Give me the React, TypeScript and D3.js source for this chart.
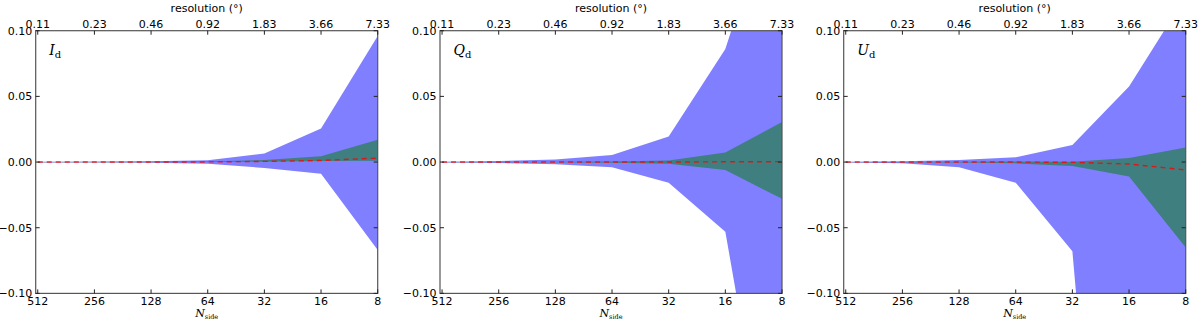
import React, { useEffect, useRef } from 'react';
import * as d3 from 'd3';

// x positions
const nside = [512, 256, 128, 64, 32, 16, 8];
const resolutionLabels = ['0.11', '0.23', '0.46', '0.92', '1.83', '3.66', '7.33'];
const yTicks = [-0.1, -0.05, 0, 0.05, 0.1];

// I_d
const iBlueHigh = [0.0003, 0.0004, 0.0006, 0.0013, 0.0066, 0.0255, 0.096];
const iBlueLow = [-0.0003, -0.0004, -0.0006, -0.0013, -0.0045, -0.009, -0.067];
const iGreenHigh = [0.0001, 0.0001, 0.0002, 0.0004, 0.0015, 0.0045, 0.017];
const iGreenLow = [-0.0001, -0.0001, -0.0001, 0, 0.0003, 0.0008, 0.001];
const iMean = [0, 0, 0, 0.0001, 0.0005, 0.0012, 0.003];

// Q_d
const qBlueHigh = [0.0003, 0.0008, 0.002, 0.0053, 0.0195, 0.086, 0.22];
const qBlueLow = [-0.0003, -0.0007, -0.0017, -0.004, -0.0157, -0.053, -0.3];
const qGreenHigh = [0.0001, 0.0001, 0.0002, 0.0005, 0.0012, 0.0073, 0.0305];
const qGreenLow = [-0.0001, -0.0001, -0.0002, -0.0005, -0.0012, -0.006, -0.028];
const qMean = [0, 0, 0, 0, 0, 0.0002, 0.0003];

// U_d
const uBlueHigh = [0.0003, 0.0006, 0.0015, 0.0036, 0.013, 0.0576, 0.126];
const uBlueLow = [-0.0004, -0.001, -0.004, -0.0157, -0.068, -0.56, -0.9];
const uGreenHigh = [0.0001, 0.0001, 0.0002, 0.0004, 0.0003, 0.003, 0.011];
const uGreenLow = [-0.0001, -0.0002, -0.0004, -0.001, -0.003, -0.011, -0.065];
const uMean = [0, 0, 0, 0, -0.0002, -0.0015, -0.006];

const panels = [
  { sym: 'I', blueHigh: iBlueHigh, blueLow: iBlueLow, greenHigh: iGreenHigh, greenLow: iGreenLow, mean: iMean },
  { sym: 'Q', blueHigh: qBlueHigh, blueLow: qBlueLow, greenHigh: qGreenHigh, greenLow: qGreenLow, mean: qMean },
  { sym: 'U', blueHigh: uBlueHigh, blueLow: uBlueLow, greenHigh: uGreenHigh, greenLow: uGreenLow, mean: uMean },
];

const W = 1200, H = 323;
const lefts = [35.7, 440, 843.7];
const pw = 342, top = 30.7, ph = 262.7;
const sans = 'DejaVu Sans, sans-serif';
const serif = 'DejaVu Serif, serif';

function App() {
  const ref = useRef<SVGSVGElement>(null);

  useEffect(() => {
    const svg = d3.select(ref.current);
    svg.selectAll('*').remove();

    const x = d3.scaleLog().base(2).domain([525, 8]).range([0, pw]);
    const y = d3.scaleLinear().domain([-0.1, 0.1]).range([ph, 0]);

    panels.forEach((p, pi) => {
      const g = svg.append('g').attr('transform', `translate(${lefts[pi]},${top})`);
      const clipId = `clip${pi}`;
      g.append('clipPath').attr('id', clipId)
        .append('rect').attr('width', pw).attr('height', ph);

      const plot = g.append('g').attr('clip-path', `url(#${clipId})`);

      const band = (lo: number[], hi: number[]) =>
        d3.area<number>()
          .x((d, i) => x(nside[i]))
          .y0((d, i) => y(lo[i]))
          .y1((d, i) => y(hi[i]))(nside);

      plot.append('path').attr('d', band(p.blueLow, p.blueHigh))
        .attr('fill', 'blue').attr('fill-opacity', 0.5);
      plot.append('path').attr('d', band(p.greenLow, p.greenHigh))
        .attr('fill', 'green').attr('fill-opacity', 0.5);

      const line = d3.line<number>()
        .x((d, i) => x(nside[i]))
        .y(d => y(d));
      plot.append('path').attr('d', line(p.mean))
        .attr('fill', 'none').attr('stroke', 'red').attr('stroke-opacity', 0.8)
        .attr('stroke-width', 1.4).attr('stroke-dasharray', '5,4');

      // frame
      g.append('rect').attr('width', pw).attr('height', ph)
        .attr('fill', 'none').attr('stroke', '#555').attr('stroke-width', 1.2);

      // inward ticks
      const tickLen = 4;
      nside.forEach(n => {
        g.append('line').attr('x1', x(n)).attr('x2', x(n)).attr('y1', ph).attr('y2', ph - tickLen)
          .attr('stroke', '#222').attr('stroke-width', 1);
        g.append('line').attr('x1', x(n)).attr('x2', x(n)).attr('y1', 0).attr('y2', tickLen)
          .attr('stroke', '#222').attr('stroke-width', 1);
      });
      yTicks.forEach(t => {
        g.append('line').attr('x1', 0).attr('x2', tickLen).attr('y1', y(t)).attr('y2', y(t))
          .attr('stroke', '#222').attr('stroke-width', 1);
        g.append('line').attr('x1', pw).attr('x2', pw - tickLen).attr('y1', y(t)).attr('y2', y(t))
          .attr('stroke', '#222').attr('stroke-width', 1);
      });

      // tick labels
      nside.forEach((n, i) => {
        g.append('text').attr('x', x(n)).attr('y', ph + 11.5)
          .attr('text-anchor', 'middle').attr('font-family', sans).attr('font-size', 11)
          .attr('fill', '#000').text(String(n));
        g.append('text').attr('x', x(n)).attr('y', -2.7)
          .attr('text-anchor', 'middle').attr('font-family', sans).attr('font-size', 11)
          .attr('fill', '#000').text(resolutionLabels[i]);
      });
      yTicks.forEach(t => {
        g.append('text').attr('x', -3.5).attr('y', y(t)).attr('dy', '0.36em')
          .attr('text-anchor', 'end').attr('font-family', sans).attr('font-size', 11)
          .attr('fill', '#000').text(d3.format('.2f')(t).replace('-', '\u2013'));
      });

      // axis titles
      g.append('text').attr('x', pw / 2).attr('y', -19)
        .attr('text-anchor', 'middle').attr('font-family', sans).attr('font-size', 11)
        .attr('fill', '#000').text('resolution (\u00b0)');

      const xl = g.append('text').attr('x', pw / 2).attr('y', ph + 24)
        .attr('text-anchor', 'middle').attr('font-family', serif).attr('fill', '#000');
      xl.append('tspan').attr('font-style', 'italic').attr('font-size', 11).text('N');
      xl.append('tspan').attr('font-size', 6.5).attr('dy', 2).text('side');

      // panel label
      const pl = g.append('text').attr('x', 13.5).attr('y', 24.5)
        .attr('font-family', serif).attr('fill', '#000');
      pl.append('tspan').attr('font-style', 'italic').attr('font-size', 14).text(p.sym);
      pl.append('tspan').attr('font-size', 10).attr('dy', 2.5).text('d');
    });
  }, []);

  return (
    <svg ref={ref} width={W} height={H}
      style={{ position: 'absolute', left: 0, top: 0, background: '#fff' }} />
  );
}

export default App;
